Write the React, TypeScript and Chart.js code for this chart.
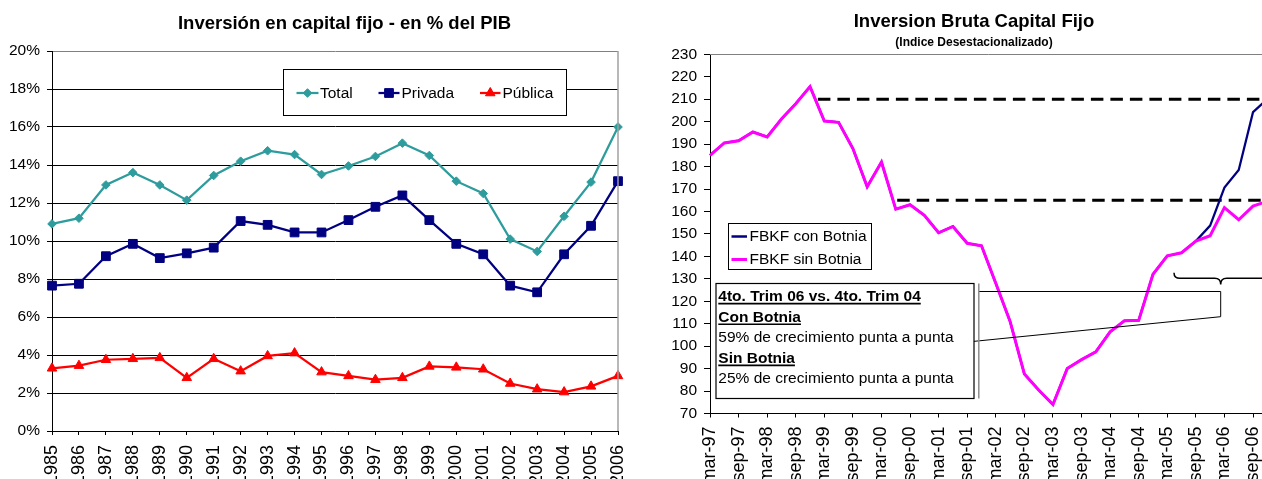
import React, { useEffect, useRef } from 'react';
import { Chart, registerables } from 'chart.js';

Chart.register(...registerables);

const FONT = "'Liberation Sans', Arial, Helvetica, sans-serif";

// ---------- Left chart data ----------
const years = ['1985', '1986', '1987', '1988', '1989', '1990', '1991', '1992', '1993', '1994', '1995',
  '1996', '1997', '1998', '1999', '2000', '2001', '2002', '2003', '2004', '2005', '2006'];
const totalPct = [10.9, 11.2, 12.95, 13.6, 12.95, 12.15, 13.45, 14.2, 14.75, 14.55, 13.5,
  13.95, 14.45, 15.15, 14.5, 13.15, 12.5, 10.1, 9.45, 11.3, 13.1, 16.0];
const privadaPct = [7.65, 7.75, 9.2, 9.85, 9.1, 9.35, 9.65, 11.05, 10.85, 10.45, 10.45,
  11.1, 11.8, 12.4, 11.1, 9.85, 9.3, 7.65, 7.3, 9.3, 10.8, 13.15];
const publicaPct = [3.3, 3.44, 3.75, 3.8, 3.85, 2.8, 3.8, 3.15, 3.95, 4.1, 3.1,
  2.9, 2.7, 2.8, 3.4, 3.35, 3.25, 2.5, 2.2, 2.05, 2.35, 2.9];
const leftTitle = 'Inversión en capital fijo - en % del PIB';
const leftLegend = ['Total', 'Privada', 'Pública'];

// ---------- Right chart data ----------
const quarters = [
  'mar-97', 'jun-97', 'sep-97', 'dic-97', 'mar-98', 'jun-98', 'sep-98', 'dic-98',
  'mar-99', 'jun-99', 'sep-99', 'dic-99', 'mar-00', 'jun-00', 'sep-00', 'dic-00',
  'mar-01', 'jun-01', 'sep-01', 'dic-01', 'mar-02', 'jun-02', 'sep-02', 'dic-02',
  'mar-03', 'jun-03', 'sep-03', 'dic-03', 'mar-04', 'jun-04', 'sep-04', 'dic-04',
  'mar-05', 'jun-05', 'sep-05', 'dic-05', 'mar-06', 'jun-06', 'sep-06', 'dic-06'];
const sinBotnia = [185, 190.5, 191.5, 195.4, 193.2, 201.2, 208, 215.6,
  200.3, 199.7, 188, 171, 182, 161, 163, 158.3,
  150.5, 153.3, 145.8, 144.7, 128, 111, 87.6, 80.5,
  74, 90, 94, 97.5, 106.4, 111.3, 111.5, 132,
  140.2, 141.6, 146.8, 149.2, 161.7, 156.3, 162.4, 164.5];
const conBotnia = [185, 190.5, 191.5, 195.4, 193.2, 201.2, 208, 215.6,
  200.3, 199.7, 188, 171, 182, 161, 163, 158.3,
  150.5, 153.3, 145.8, 144.7, 128, 111, 87.6, 80.5,
  74, 90, 94, 97.5, 106.4, 111.3, 111.5, 132,
  140.2, 141.6, 146.8, 153.7, 170.6, 178.5, 204.2, 210];
const refLevels = [210, 165];
const refStartIndex = [7.55, 13.1];
const rightTitle = 'Inversion Bruta Capital Fijo';
const rightSubtitle = '(Indice Desestacionalizado)';
const rightLegend = ['FBKF con Botnia', 'FBKF sin Botnia'];
const noteLines = [
  '4to. Trim 06 vs. 4to. Trim 04',
  'Con Botnia',
  '59% de crecimiento punta a punta',
  'Sin Botnia',
  '25% de crecimiento punta a punta',
];

const TEAL = '#2E9C9C';
const NAVY = '#000080';
const RED = '#FF0000';
const MAGENTA = '#FF00FF';

function drawMarker(ctx: CanvasRenderingContext2D, style: string, cx: number, cy: number, r: number, color: string) {
  ctx.save();
  ctx.fillStyle = color;
  ctx.strokeStyle = color;
  ctx.lineWidth = 1;
  ctx.beginPath();
  if (style === 'rectRot') {
    ctx.moveTo(cx, cy - r);
    ctx.lineTo(cx + r, cy);
    ctx.lineTo(cx, cy + r);
    ctx.lineTo(cx - r, cy);
    ctx.closePath();
  } else if (style === 'rect') {
    const s = Math.SQRT1_2 * r;
    ctx.rect(cx - s, cy - s, 2 * s, 2 * s);
  } else {
    let rad = 0;
    ctx.moveTo(cx + Math.sin(rad) * r, cy - Math.cos(rad) * r);
    rad += (2 * Math.PI) / 3;
    ctx.lineTo(cx + Math.sin(rad) * r, cy - Math.cos(rad) * r);
    rad += (2 * Math.PI) / 3;
    ctx.lineTo(cx + Math.sin(rad) * r, cy - Math.cos(rad) * r);
    ctx.closePath();
  }
  ctx.fill();
  ctx.stroke();
  ctx.restore();
}

const leftDecor = {
  id: 'leftDecor',
  afterDraw(chart: any) {
    const { ctx, chartArea } = chart;
    ctx.save();
    // title
    ctx.fillStyle = '#000';
    ctx.font = `bold 18.5px ${FONT}`;
    ctx.textAlign = 'center';
    ctx.textBaseline = 'middle';
    ctx.fillText(leftTitle, 344.5, 24);
    // right plot border
    ctx.strokeStyle = '#A0A0A0';
    ctx.lineWidth = 1.5;
    ctx.beginPath();
    ctx.moveTo(chartArea.right, chartArea.top);
    ctx.lineTo(chartArea.right, chartArea.bottom);
    ctx.stroke();
    // legend box
    ctx.fillStyle = '#fff';
    ctx.fillRect(283.5, 69.5, 283, 46);
    ctx.strokeStyle = '#000';
    ctx.lineWidth = 1;
    ctx.strokeRect(283.5, 69.5, 283, 46);
    const items = [
      { x0: 296.5, x1: 318.5, tx: 320, color: TEAL, style: 'rectRot', r: 4.3 },
      { x0: 378.5, x1: 399.5, tx: 401.5, color: NAVY, style: 'rect', r: 6.2 },
      { x0: 480, x1: 500.5, tx: 502.5, color: RED, style: 'triangle', r: 5.5 },
    ];
    const ly = 93;
    items.forEach((it, i) => {
      ctx.strokeStyle = it.color;
      ctx.lineWidth = 2.25;
      ctx.beginPath();
      ctx.moveTo(it.x0, ly);
      ctx.lineTo(it.x1, ly);
      ctx.stroke();
      drawMarker(ctx, it.style, (it.x0 + it.x1) / 2, ly, it.r, it.color);
      ctx.fillStyle = '#000';
      ctx.font = `15.5px ${FONT}`;
      ctx.textAlign = 'left';
      ctx.textBaseline = 'middle';
      ctx.fillText(leftLegend[i], it.tx, ly + 0.5);
    });
    ctx.restore();
  },
};

const rightRefLines = {
  id: 'rightRefLines',
  beforeDatasetsDraw(chart: any) {
    const { ctx, chartArea, scales } = chart;
    const x = scales.x;
    const y = scales.y;
    ctx.save();
    // top border
    ctx.strokeStyle = '#808080';
    ctx.lineWidth = 1;
    ctx.beginPath();
    ctx.moveTo(chartArea.left, Math.round(chartArea.top) + 0.5);
    ctx.lineTo(chartArea.right, Math.round(chartArea.top) + 0.5);
    ctx.stroke();
    // dashed reference lines
    ctx.strokeStyle = '#000';
    ctx.lineWidth = 3;
    ctx.setLineDash([12.5, 7]);
    refLevels.forEach((lvl, i) => {
      const py = y.getPixelForValue(lvl);
      ctx.beginPath();
      ctx.moveTo(x.getPixelForValue(refStartIndex[i]), py);
      ctx.lineTo(chartArea.right, py);
      ctx.stroke();
    });
    ctx.restore();
  },
};

const rightDecor = {
  id: 'rightDecor',
  afterDraw(chart: any) {
    const { ctx } = chart;
    ctx.save();
    ctx.fillStyle = '#000';
    ctx.textAlign = 'center';
    ctx.textBaseline = 'middle';
    ctx.font = `bold 18.5px ${FONT}`;
    ctx.fillText(rightTitle, 344, 22);
    ctx.font = `bold 12px ${FONT}`;
    ctx.fillText(rightSubtitle, 344, 43);

    // legend
    ctx.fillStyle = '#fff';
    ctx.fillRect(98.5, 223.5, 143, 46);
    ctx.strokeStyle = '#000';
    ctx.lineWidth = 1;
    ctx.strokeRect(98.5, 223.5, 143, 46);
    const leg = [
      { y: 236.5, color: NAVY, w: 2.5 },
      { y: 259.5, color: MAGENTA, w: 3 },
    ];
    leg.forEach((it, i) => {
      ctx.strokeStyle = it.color;
      ctx.lineWidth = it.w;
      ctx.beginPath();
      ctx.moveTo(101.5, it.y);
      ctx.lineTo(117, it.y);
      ctx.stroke();
      ctx.fillStyle = '#000';
      ctx.font = `15.5px ${FONT}`;
      ctx.textAlign = 'left';
      ctx.textBaseline = 'middle';
      ctx.fillText(rightLegend[i], 119.5, it.y);
    });

    // callout lines
    ctx.strokeStyle = '#000';
    ctx.lineWidth = 1;
    ctx.beginPath();
    ctx.moveTo(340.5, 341.7);
    ctx.lineTo(590.7, 316.7);
    ctx.lineTo(590.7, 291.5);
    ctx.lineTo(348.8, 291.5);
    ctx.stroke();

    // note box
    ctx.fillStyle = '#fff';
    ctx.fillRect(86, 283.5, 258, 115);
    ctx.strokeStyle = '#000';
    ctx.lineWidth = 1.2;
    ctx.strokeRect(86, 283.5, 258, 115);
    ctx.strokeStyle = '#8C8C8C';
    ctx.lineWidth = 1.5;
    ctx.beginPath();
    ctx.moveTo(348.8, 283.5);
    ctx.lineTo(348.8, 398.5);
    ctx.stroke();

    const boldRows = [0, 1, 3];
    ctx.textAlign = 'left';
    ctx.textBaseline = 'alphabetic';
    noteLines.forEach((t, i) => {
      const bold = boldRows.indexOf(i) >= 0;
      const by = 301 + i * 20.6;
      ctx.font = `${bold ? 'bold ' : ''}15.5px ${FONT}`;
      ctx.fillStyle = '#000';
      ctx.fillText(t, 88.3, by);
      if (bold) {
        const w = ctx.measureText(t).width;
        ctx.strokeStyle = '#000';
        ctx.lineWidth = 1.6;
        ctx.beginPath();
        ctx.moveTo(88.3, by + 2.6);
        ctx.lineTo(88.3 + w, by + 2.6);
        ctx.stroke();
      }
    });

    // brace
    const L = 544, C = 590.7, R = 637.3;
    const yTop = 272.7, yMid = 278.3, yTip = 284.5, rr = 6;
    ctx.strokeStyle = '#000';
    ctx.lineWidth = 1.5;
    ctx.beginPath();
    ctx.moveTo(L, yTop);
    ctx.quadraticCurveTo(L, yMid, L + rr, yMid);
    ctx.lineTo(C - rr, yMid);
    ctx.quadraticCurveTo(C, yMid, C, yTip);
    ctx.quadraticCurveTo(C, yMid, C + rr, yMid);
    ctx.lineTo(R - rr, yMid);
    ctx.quadraticCurveTo(R, yMid, R, yTop);
    ctx.stroke();
    ctx.restore();
  },
};

export default function App() {
  const leftRef = useRef<HTMLCanvasElement>(null);
  const rightRef = useRef<HTMLCanvasElement>(null);

  useEffect(() => {
    const left = new Chart(leftRef.current as HTMLCanvasElement, {
      type: 'line',
      data: {
        labels: years,
        datasets: [
          {
            label: leftLegend[0], data: totalPct, borderColor: TEAL, backgroundColor: TEAL,
            borderWidth: 2.25, pointStyle: 'rectRot', pointRadius: 4.3,
            pointBackgroundColor: TEAL, pointBorderColor: TEAL, pointBorderWidth: 1, tension: 0, order: 3,
          },
          {
            label: leftLegend[1], data: privadaPct, borderColor: NAVY, backgroundColor: NAVY,
            borderWidth: 2.25, pointStyle: 'rect', pointRadius: 6.2,
            pointBackgroundColor: NAVY, pointBorderColor: NAVY, pointBorderWidth: 1, tension: 0, order: 2,
          },
          {
            label: leftLegend[2], data: publicaPct, borderColor: RED, backgroundColor: RED,
            borderWidth: 2.25, pointStyle: 'triangle', pointRadius: 5.5,
            pointBackgroundColor: RED, pointBorderColor: RED, pointBorderWidth: 1, tension: 0, order: 1,
          },
        ],
      },
      options: {
        responsive: false,
        animation: false,
        devicePixelRatio: 1,
        layout: { padding: { top: 51, left: 0, right: 72, bottom: 0 } },
        plugins: { legend: { display: false }, tooltip: { enabled: false }, title: { display: false } },
        scales: {
          x: {
            offset: false,
            grid: { display: true, drawOnChartArea: false, drawTicks: true, tickLength: 4, color: '#000' },
            border: { display: true, color: '#000', width: 1 },
            ticks: {
              autoSkip: false, minRotation: 90, maxRotation: 90, padding: 10, color: '#000',
              font: { family: FONT, size: 18 },
            },
            afterFit: (s: any) => { s.height = 69; },
          },
          y: {
            min: 0, max: 20,
            ticks: {
              stepSize: 2, padding: 7, color: '#000', font: { family: FONT, size: 15.5 },
              callback: (v: any) => v + '%',
            },
            grid: {
              color: (c: any) => (c.tick && c.tick.value === 20 ? '#808080' : '#000'),
              tickColor: '#000', tickLength: 5, drawTicks: true, lineWidth: 1,
            },
            border: { display: true, color: '#000', width: 1 },
            afterFit: (s: any) => { s.width = 52; },
          },
        },
      } as any,
      plugins: [leftDecor],
    });

    const right = new Chart(rightRef.current as HTMLCanvasElement, {
      type: 'line',
      data: {
        labels: quarters,
        datasets: [
          {
            label: rightLegend[0], data: conBotnia, borderColor: NAVY, backgroundColor: NAVY,
            borderWidth: 2.25, pointRadius: 0, tension: 0, order: 2,
          },
          {
            label: rightLegend[1], data: sinBotnia, borderColor: MAGENTA, backgroundColor: MAGENTA,
            borderWidth: 3, pointRadius: 0, tension: 0, order: 1,
          },
        ],
      },
      options: {
        responsive: false,
        animation: false,
        devicePixelRatio: 1,
        layout: { padding: { top: 54.3, left: 0, right: 62.7, bottom: 0 } },
        plugins: { legend: { display: false }, tooltip: { enabled: false }, title: { display: false } },
        scales: {
          x: {
            offset: false,
            grid: {
              display: true, drawOnChartArea: false, drawTicks: true, tickLength: 4, color: '#000',
              tickColor: (c: any) => (c.index % 2 === 0 ? '#000' : 'rgba(0,0,0,0)'),
            },
            border: { display: true, color: '#000', width: 1 },
            ticks: {
              autoSkip: false, minRotation: 90, maxRotation: 90, padding: 9, color: '#000',
              font: { family: FONT, size: 18 },
              callback: (_v: any, i: number) => (i % 2 === 0 ? quarters[i] : ''),
            },
            afterFit: (s: any) => { s.height = 500 - 413.5; },
          },
          y: {
            min: 70, max: 230,
            ticks: { stepSize: 10, padding: 7, color: '#000', font: { family: FONT, size: 15.5 } },
            grid: { display: true, drawOnChartArea: false, drawTicks: true, tickLength: 6, color: '#000' },
            border: { display: true, color: '#000', width: 1 },
            afterFit: (s: any) => { s.width = 80; },
          },
        },
      } as any,
      plugins: [rightRefLines, rightDecor],
    });

    return () => {
      left.destroy();
      right.destroy();
    };
  }, []);

  return (
    <div style={{ position: 'fixed', left: 0, top: 0, width: 1262, height: 479, overflow: 'hidden', background: '#fff' }}>
      <canvas ref={leftRef} width={690} height={500} style={{ position: 'absolute', left: 0, top: 0 }} />
      <canvas ref={rightRef} width={700} height={500} style={{ position: 'absolute', left: 630, top: 0 }} />
    </div>
  );
}
